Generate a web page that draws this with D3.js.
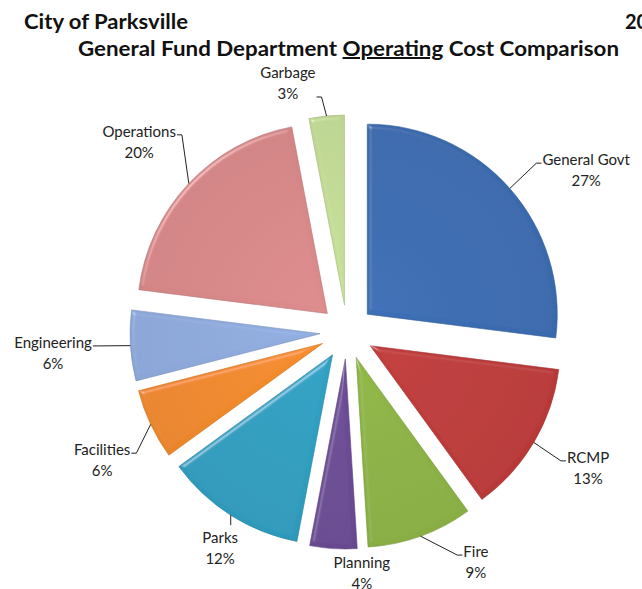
<!DOCTYPE html>
<html>
<head>
<meta charset="utf-8">
<script src="https://cdn.jsdelivr.net/npm/d3@7"></script>
<style>
  body { margin: 0; background: #fff; }
  svg { display: block; font-family: Lato, "Open Sans", sans-serif; }
</style>
</head>
<body>
<svg width="642" height="589"></svg>
<script>
"use strict";

// departments in clockwise order from 12 o'clock
const departments = ['General Govt', 'RCMP', 'Fire', 'Planning', 'Parks',
    'Facilities', 'Engineering', 'Operations', 'Garbage'];
const shares = [27, 13, 9, 4, 12, 6, 6, 20, 3];

const sliceColors = ['#3b6cb1', '#bd3a39', '#8cb244', '#6b4b94', '#2e9dbf',
    '#f0892b', '#8eaadc', '#d88889', '#c2db95'];

// label block placement (polar, around pie centre)
const labelAngles = [55.1, 118.5, 150.2, 176.4, 211.0, 243.3, 266.9, 313.2, 346.9];
const labelRadii = [291.6, 274.3, 259.4, 236.5, 246.3, 274.1, 294.4, 285.1, 260.8];

const svg = d3.select('svg');
const cx = 347, cy = 332, radius = 190, explode = 27, lineGap = 21;

// titles
svg.append('text')
    .attr('x', 24).attr('y', 29)
    .attr('font-size', 20).attr('font-weight', 'bold').attr('fill', '#111')
    .attr('textLength', 164).attr('lengthAdjust', 'spacingAndGlyphs')
    .text('City of Parksville');

svg.append('text')
    .attr('x', 625).attr('y', 29)
    .attr('font-size', 20).attr('font-weight', 'bold').attr('fill', '#111')
    .text('20');

const title = svg.append('text')
    .attr('x', 78).attr('y', 56)
    .attr('font-size', 20).attr('font-weight', 'bold').attr('fill', '#111')
    .attr('textLength', 541).attr('lengthAdjust', 'spacingAndGlyphs');
title.append('tspan').text('General Fund Department ');
title.append('tspan').attr('text-decoration', 'underline').text('Operating');
title.append('tspan').text(' Cost Comparison');

// soft bevel lighting
const defs = svg.append('defs');
const filter = defs.append('filter').attr('id', 'bevel')
    .attr('x', '-10%').attr('y', '-10%').attr('width', '120%').attr('height', '120%');
filter.append('feGaussianBlur').attr('in', 'SourceAlpha').attr('stdDeviation', 2).attr('result', 'blur');
const spec = filter.append('feSpecularLighting')
    .attr('in', 'blur').attr('surfaceScale', 3)
    .attr('specularConstant', 0.5).attr('specularExponent', 35)
    .attr('lighting-color', '#ffffff').attr('result', 'spec');
spec.append('feDistantLight').attr('azimuth', 225).attr('elevation', 40);
filter.append('feComposite').attr('in', 'spec').attr('in2', 'SourceAlpha')
    .attr('operator', 'in').attr('result', 'specIn');
filter.append('feComposite').attr('in', 'SourceGraphic').attr('in2', 'specIn')
    .attr('operator', 'arithmetic')
    .attr('k1', 0).attr('k2', 1).attr('k3', 0.55).attr('k4', 0);

const data = departments.map((name, i) => ({name, value: shares[i], color: sliceColors[i]}));

const pie = d3.pie().value(d => d.value).sort(null);
const arc = d3.arc().innerRadius(0).outerRadius(radius);
const arcs = pie(data);

arcs.forEach((a, i) => {
    const mid = (a.startAngle + a.endAngle) / 2;
    a.mid = mid;
    a.ox = cx + explode * Math.sin(mid);
    a.oy = cy - explode * Math.cos(mid);
    const grad = defs.append('radialGradient')
        .attr('id', 'g' + i)
        .attr('gradientUnits', 'userSpaceOnUse')
        .attr('cx', 0).attr('cy', 0).attr('r', radius);
    const c = d3.color(a.data.color);
    grad.append('stop').attr('offset', '0%').attr('stop-color', c.brighter(0.08));
    grad.append('stop').attr('offset', '100%').attr('stop-color', c.darker(0.08));
});

const slices = svg.append('g').selectAll('g')
    .data(arcs)
    .enter().append('g')
    .attr('transform', d => `translate(${d.ox},${d.oy})`);

slices.append('path')
    .attr('d', arc)
    .attr('fill', (d, i) => `url(#g${i})`)
    .attr('stroke', d => d3.color(d.data.color).darker(0.5))
    .attr('stroke-width', 0.6)
    .attr('filter', 'url(#bevel)');

// labels + leader lines
const labels = svg.append('g').attr('font-size', 15).attr('fill', '#222');
const leaders = svg.append('g').attr('fill', 'none').attr('stroke', '#222').attr('stroke-width', 1);

arcs.forEach((a, i) => {
    const ang = labelAngles[i] * Math.PI / 180;
    const ax = cx + labelRadii[i] * Math.sin(ang);
    const ay = cy - labelRadii[i] * Math.cos(ang);

    const t1 = labels.append('text').attr('x', ax).attr('y', ay)
        .attr('text-anchor', 'middle').text(a.data.name);
    const t2 = labels.append('text').attr('x', ax).attr('y', ay + lineGap)
        .attr('text-anchor', 'middle').text(a.data.value + '%');

    const w = Math.max(t1.node().getComputedTextLength(), t2.node().getComputedTextLength());
    const left = ax - w / 2, right = ax + w / 2;
    const top = ay - 12, bottom = ay + lineGap + 4;

    const sx = a.ox + radius * Math.sin(a.mid);
    const sy = a.oy - radius * Math.cos(a.mid);

    // label sits right against the slice: no leader
    const gapX = Math.max(left - sx, sx - right, 0);
    const gapY = Math.max(top - sy, sy - bottom, 0);
    if (Math.hypot(gapX, gapY) < 12) return;

    let pts;
    if (sx > left && sx < right) {
        const endY = sy < ay ? ay - 18 : ay + lineGap + 6;
        pts = [[sx, sy], [sx, endY]];
    } else {
        const nearTop = Math.abs(labelAngles[i] - 360) < 30;
        const ty = (nearTop ? ay + lineGap : ay) - 2;
        const ex = sx > ax ? right + 1 : left - 1;
        const dir = sx > ax ? 1 : -1;
        pts = [[ex, ty], [ex + dir * 5, ty], [sx, sy]];
    }
    leaders.append('path').attr('d', d3.line()(pts));
});
</script>
</body>
</html>
